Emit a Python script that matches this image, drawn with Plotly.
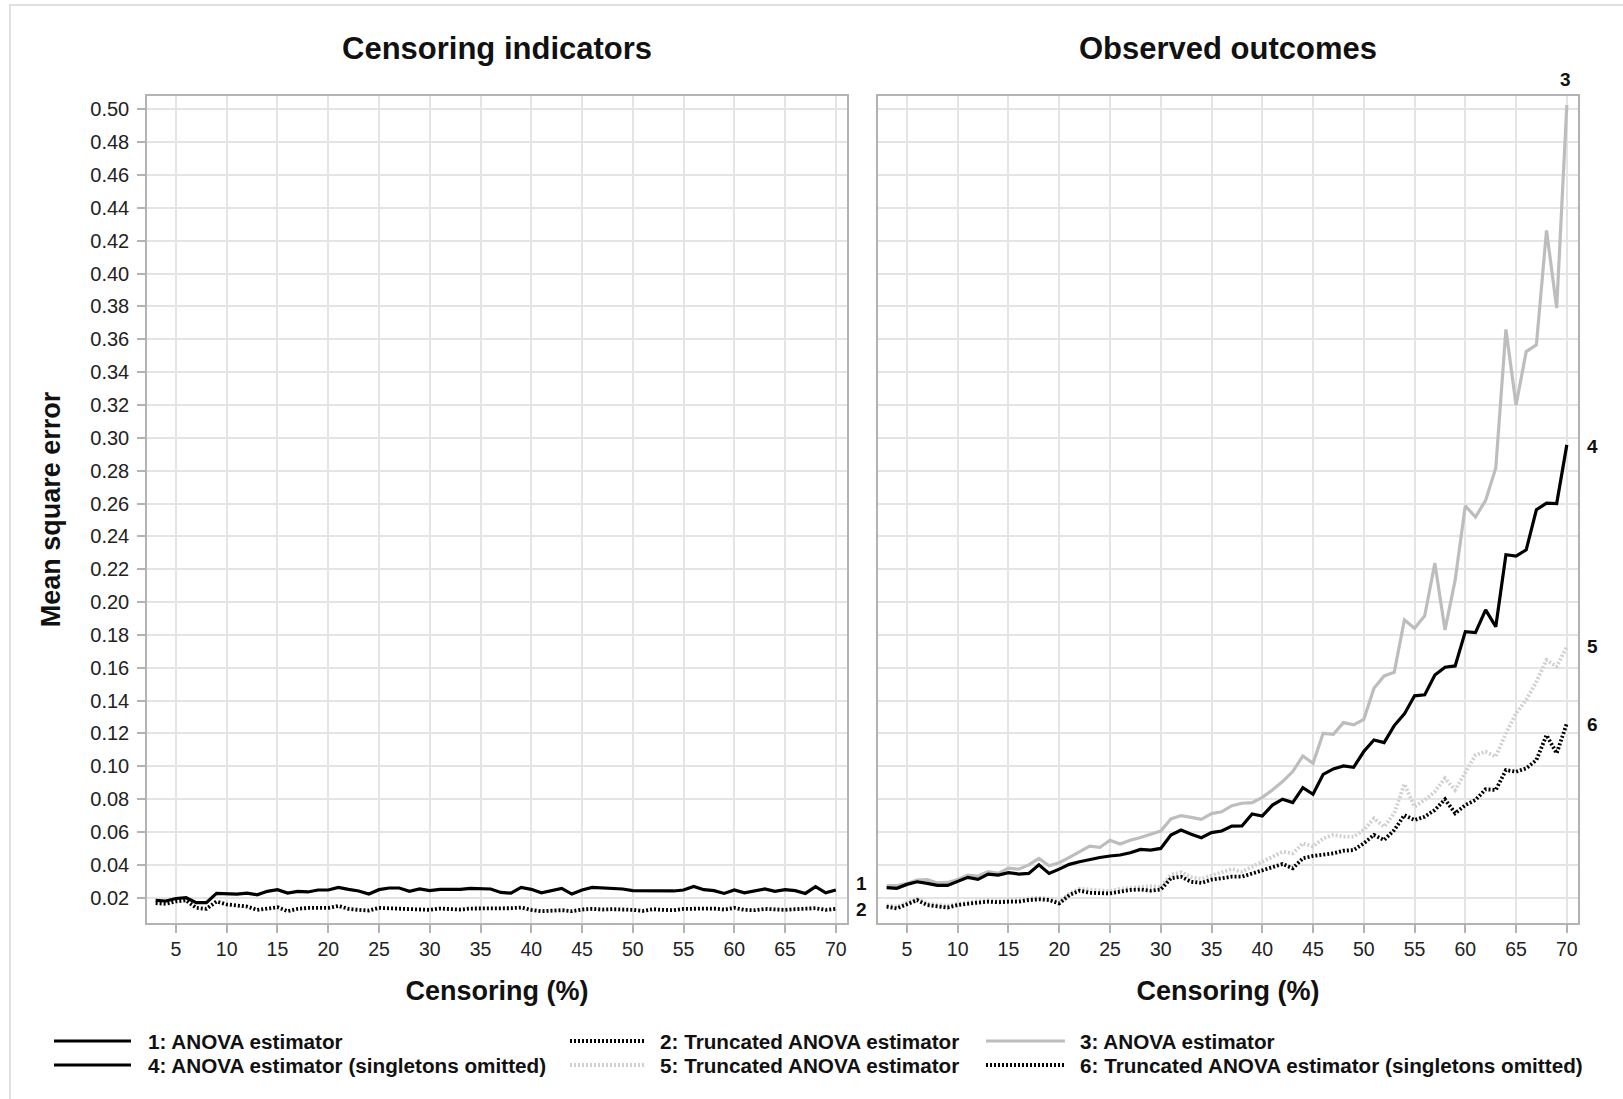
import plotly.graph_objects as go

# ---------------- data ----------------
censoring = list(range(3, 71))

# Left panel: Censoring indicators
ci_anova = [0.0184, 0.0180, 0.0195, 0.0200, 0.0170, 0.0170, 0.0226, 0.0222, 0.0222, 0.0228,
            0.0218, 0.0239, 0.0249, 0.0228, 0.0239, 0.0235, 0.0247, 0.0247, 0.0263, 0.0251,
            0.0241, 0.0222, 0.0249, 0.0259, 0.0259, 0.0239, 0.0253, 0.0243, 0.0251, 0.0251,
            0.0251, 0.0257, 0.0255, 0.0253, 0.0232, 0.0228, 0.0263, 0.0251, 0.0230, 0.0243,
            0.0257, 0.0222, 0.0247, 0.0263, 0.0261, 0.0259, 0.0253, 0.0243, 0.0243, 0.0243,
            0.0239, 0.0241, 0.0247, 0.0269, 0.0249, 0.0243, 0.0226, 0.0247, 0.0230, 0.0243,
            0.0253, 0.0239, 0.0249, 0.0243, 0.0226, 0.0267, 0.0230, 0.0247]
ci_trunc = [0.0167, 0.0163, 0.0177, 0.0184, 0.0138, 0.0132, 0.0177, 0.0159, 0.0153, 0.0146,
            0.0126, 0.0132, 0.0142, 0.0118, 0.0132, 0.0138, 0.0138, 0.0138, 0.0150, 0.0132,
            0.0126, 0.0122, 0.0138, 0.0136, 0.0134, 0.0134, 0.0132, 0.0126, 0.0134, 0.0130,
            0.0128, 0.0134, 0.0134, 0.0134, 0.0134, 0.0136, 0.0140, 0.0126, 0.0118, 0.0122,
            0.0124, 0.0118, 0.0128, 0.0132, 0.0128, 0.0130, 0.0130, 0.0126, 0.0120, 0.0130,
            0.0126, 0.0124, 0.0132, 0.0134, 0.0132, 0.0134, 0.0128, 0.0138, 0.0126, 0.0124,
            0.0132, 0.0128, 0.0126, 0.0130, 0.0132, 0.0136, 0.0126, 0.0132]

# Right panel: Observed outcomes
oo_anova = [0.0273, 0.0273, 0.0287, 0.0307, 0.0310, 0.0290, 0.0293, 0.0310, 0.0338, 0.0332,
            0.0358, 0.0348, 0.0380, 0.0374, 0.0400, 0.0439, 0.0395, 0.0413, 0.0445, 0.0480,
            0.0514, 0.0506, 0.0550, 0.0527, 0.0550, 0.0567, 0.0585, 0.0606, 0.0680, 0.0700,
            0.0689, 0.0677, 0.0712, 0.0723, 0.0760, 0.0775, 0.0779, 0.0811, 0.0856, 0.0907,
            0.0968, 0.1063, 0.1018, 0.1201, 0.1195, 0.1266, 0.1252, 0.1286, 0.1475, 0.1550,
            0.1573, 0.1891, 0.1841, 0.1916, 0.2237, 0.1830, 0.2135, 0.2586, 0.2517, 0.2619,
            0.2816, 0.3660, 0.3200, 0.3525, 0.3566, 0.4263, 0.3790, 0.5026]
oo_anova_single = [0.0261, 0.0257, 0.0281, 0.0297, 0.0287, 0.0275, 0.0275, 0.0300, 0.0324, 0.0312,
                   0.0344, 0.0338, 0.0352, 0.0344, 0.0348, 0.0400, 0.0348, 0.0374, 0.0403, 0.0419,
                   0.0433, 0.0445, 0.0454, 0.0460, 0.0474, 0.0494, 0.0490, 0.0500, 0.0581, 0.0612,
                   0.0587, 0.0565, 0.0596, 0.0606, 0.0636, 0.0637, 0.0710, 0.0697, 0.0764, 0.0800,
                   0.0779, 0.0870, 0.0830, 0.0951, 0.0984, 0.1002, 0.0994, 0.1090, 0.1160, 0.1144,
                   0.1248, 0.1319, 0.1429, 0.1435, 0.1556, 0.1603, 0.1611, 0.1820, 0.1814, 0.1952,
                   0.1850, 0.2288, 0.2280, 0.2318, 0.2562, 0.2602, 0.2600, 0.2957]
oo_trunc = [0.0155, 0.0145, 0.0170, 0.0195, 0.0165, 0.0155, 0.0150, 0.0165, 0.0175, 0.0180,
            0.0185, 0.0180, 0.0185, 0.0190, 0.0195, 0.0200, 0.0195, 0.0175, 0.0225, 0.0255,
            0.0250, 0.0245, 0.0240, 0.0255, 0.0260, 0.0265, 0.0270, 0.0265, 0.0340, 0.0355,
            0.0325, 0.0315, 0.0335, 0.0350, 0.0375, 0.0358, 0.0389, 0.0419, 0.0450, 0.0480,
            0.0470, 0.0531, 0.0511, 0.0561, 0.0582, 0.0572, 0.0572, 0.0612, 0.0683, 0.0632,
            0.0714, 0.0892, 0.0754, 0.0795, 0.0846, 0.0927, 0.0856, 0.0957, 0.1069, 0.1089,
            0.1059, 0.1200, 0.1323, 0.1404, 0.1515, 0.1647, 0.1607, 0.1729]
oo_trunc_single = [0.0145, 0.0135, 0.0160, 0.0186, 0.0155, 0.0145, 0.0140, 0.0155, 0.0165, 0.0170,
                   0.0176, 0.0172, 0.0176, 0.0176, 0.0186, 0.0190, 0.0186, 0.0165, 0.0216, 0.0243,
                   0.0230, 0.0230, 0.0226, 0.0237, 0.0247, 0.0250, 0.0243, 0.0250, 0.0318, 0.0328,
                   0.0297, 0.0290, 0.0310, 0.0318, 0.0328, 0.0328, 0.0348, 0.0368, 0.0389, 0.0405,
                   0.0379, 0.0440, 0.0454, 0.0460, 0.0470, 0.0486, 0.0490, 0.0531, 0.0582, 0.0551,
                   0.0612, 0.0703, 0.0673, 0.0693, 0.0734, 0.0799, 0.0714, 0.0764, 0.0795, 0.0860,
                   0.0856, 0.0977, 0.0967, 0.0988, 0.1038, 0.1190, 0.1079, 0.1262]

x_ticks = list(range(5, 71, 5))
panel_titles = ["Censoring indicators", "Observed outcomes"]
x_title = "Censoring (%)"
y_title = "Mean square error"
legend_labels = ["1: ANOVA estimator", "2: Truncated ANOVA estimator", "3: ANOVA estimator",
                 "4: ANOVA estimator (singletons omitted)", "5: Truncated ANOVA estimator",
                 "6: Truncated ANOVA estimator (singletons omitted)"]

# ---------------- styles ----------------
W, H = 1623, 1099
ML, MR, MT, MB = 147, 45, 96, 176
PW, PH = W - ML - MR, H - MT - MB
def pxx(x):
    return (x - ML) / PW
def pxy(y):
    return (H - MB - y) / PH

FONT = "Liberation Sans, Arial, sans-serif"
BLACK = "#000000"
GRAY = "#bdbdbd"
LGRAY = "#d0d0d0"
DOT = "2px,2px"
styles = [
    dict(color=BLACK, width=3.2, dash="solid"),
    dict(color=BLACK, width=3.8, dash=DOT),
    dict(color=GRAY, width=3.2, dash="solid"),
    dict(color=BLACK, width=3.2, dash="solid"),
    dict(color=LGRAY, width=3.8, dash=DOT),
    dict(color=BLACK, width=3.8, dash=DOT),
]

fig = go.Figure()
fig.add_trace(go.Scatter(x=censoring, y=ci_anova, mode="lines", name=legend_labels[0],
                         line=styles[0], xaxis="x", yaxis="y", showlegend=False))
fig.add_trace(go.Scatter(x=censoring, y=ci_trunc, mode="lines", name=legend_labels[1],
                         line=styles[1], xaxis="x", yaxis="y", showlegend=False))
fig.add_trace(go.Scatter(x=censoring, y=oo_trunc, mode="lines", name=legend_labels[4],
                         line=styles[4], xaxis="x2", yaxis="y2", showlegend=False))
fig.add_trace(go.Scatter(x=censoring, y=oo_anova, mode="lines", name=legend_labels[2],
                         line=styles[2], xaxis="x2", yaxis="y2", showlegend=False))
fig.add_trace(go.Scatter(x=censoring, y=oo_trunc_single, mode="lines", name=legend_labels[5],
                         line=styles[5], xaxis="x2", yaxis="y2", showlegend=False))
fig.add_trace(go.Scatter(x=censoring, y=oo_anova_single, mode="lines", name=legend_labels[3],
                         line=styles[3], xaxis="x2", yaxis="y2", showlegend=False))

GRID = "#e4e4e4"
FRAME = "#b3b3b3"
xr = [2.15, 71.1]
yr = [0.0046, 0.5081]
d_left = [0, 700 / PW]
d_right = [731 / PW, 1]

xcommon = dict(range=xr, tickvals=x_ticks, showgrid=True, gridcolor=GRID, gridwidth=1.5,
               showline=True, linecolor=FRAME, linewidth=1.5, mirror=True,
               ticks="outside", ticklen=8, tickcolor=FRAME, tickwidth=1.5,
               tickfont=dict(family=FONT, size=19.5, color="#222222"),
               zeroline=False,
               title=dict(text="<b>" + x_title + "</b>", standoff=22,
                          font=dict(family=FONT, size=27, color="#111111")))
fig.update_layout(
    width=W, height=H,
    margin=dict(l=ML, r=MR, t=MT, b=MB, autoexpand=False),
    paper_bgcolor="white", plot_bgcolor="white",
    font=dict(family=FONT, color="#111111"),
    xaxis=dict(domain=d_left, anchor="y", **xcommon),
    xaxis2=dict(domain=d_right, anchor="y2", **xcommon),
    yaxis=dict(range=yr, tick0=0, dtick=0.02, tickformat=".2f", showgrid=True, gridcolor=GRID,
               gridwidth=1.5, showline=True, linecolor=FRAME, linewidth=1.5, mirror=True,
               ticks="outside", ticklen=8, tickcolor=FRAME, tickwidth=1.5, zeroline=False,
               anchor="x", ticklabelstandoff=4,
               tickfont=dict(family=FONT, size=20, color="#222222"),
               title=dict(text="<b>" + y_title + "</b>", standoff=22,
                          font=dict(family=FONT, size=27, color="#111111"))),
    yaxis2=dict(range=yr, tick0=0, dtick=0.02, matches="y", showgrid=True, gridcolor=GRID,
                gridwidth=1.5, showline=True, linecolor=FRAME, linewidth=1.5, mirror=True,
                ticks="", showticklabels=False, zeroline=False, anchor="x2"),
    showlegend=False,
)

ann = []
# panel titles
for i, d in enumerate([d_left, d_right]):
    ann.append(dict(text="<b>" + panel_titles[i] + "</b>", xref="paper", yref="paper",
                    x=(d[0] + d[1]) / 2, y=pxy(48), xanchor="center", yanchor="middle",
                    showarrow=False, font=dict(family=FONT, size=31, color="#111111")))
# curve labels
lab_font = dict(family=FONT, size=19, color="#111111")
curve_labels = [("1", "y", pxx(861), 0.0285), ("2", "y", pxx(861), 0.0127),
                ("3", "paper", pxx(1565), pxy(80)), ("4", "y", pxx(1592), 0.2947),
                ("5", "y", pxx(1592), 0.1729), ("6", "y", pxx(1592), 0.1257)]
for t, yref, xx, yy in curve_labels:
    ann.append(dict(text="<b>" + t + "</b>", xref="paper", yref=yref, x=xx, y=yy,
                    xanchor="center", yanchor="middle", showarrow=False, font=lab_font))

# legend (drawn manually, 2 rows x 3 columns)
shapes = []
row_y = [1041, 1065]
cols = [(54, 131, 146), (570, 646, 658), (986, 1065, 1078)]
order = [[0, 1, 2], [3, 4, 5]]
leg_font = dict(family=FONT, size=20.7, color="#111111")
for r, yy in enumerate(row_y):
    for c, (x0, x1, xt) in enumerate(cols):
        k = order[r][c]
        st = styles[k]
        shapes.append(dict(type="line", xref="paper", yref="paper",
                           x0=pxx(x0), x1=pxx(x1), y0=pxy(yy), y1=pxy(yy),
                           line=dict(color=st["color"], width=st["width"], dash=st["dash"])))
        ann.append(dict(text="<b>" + legend_labels[k] + "</b>", xref="paper", yref="paper",
                        x=pxx(xt), y=pxy(yy), xanchor="left", yanchor="middle",
                        showarrow=False, font=leg_font))

# outer border
shapes.append(dict(type="rect", xref="paper", yref="paper", x0=pxx(10), x1=pxx(1640),
                   y0=pxy(1120), y1=pxy(5), line=dict(color="#d6d6d6", width=1.5),
                   fillcolor="rgba(0,0,0,0)", layer="below"))

fig.update_layout(annotations=ann, shapes=shapes)
fig.write_html("out.html")
